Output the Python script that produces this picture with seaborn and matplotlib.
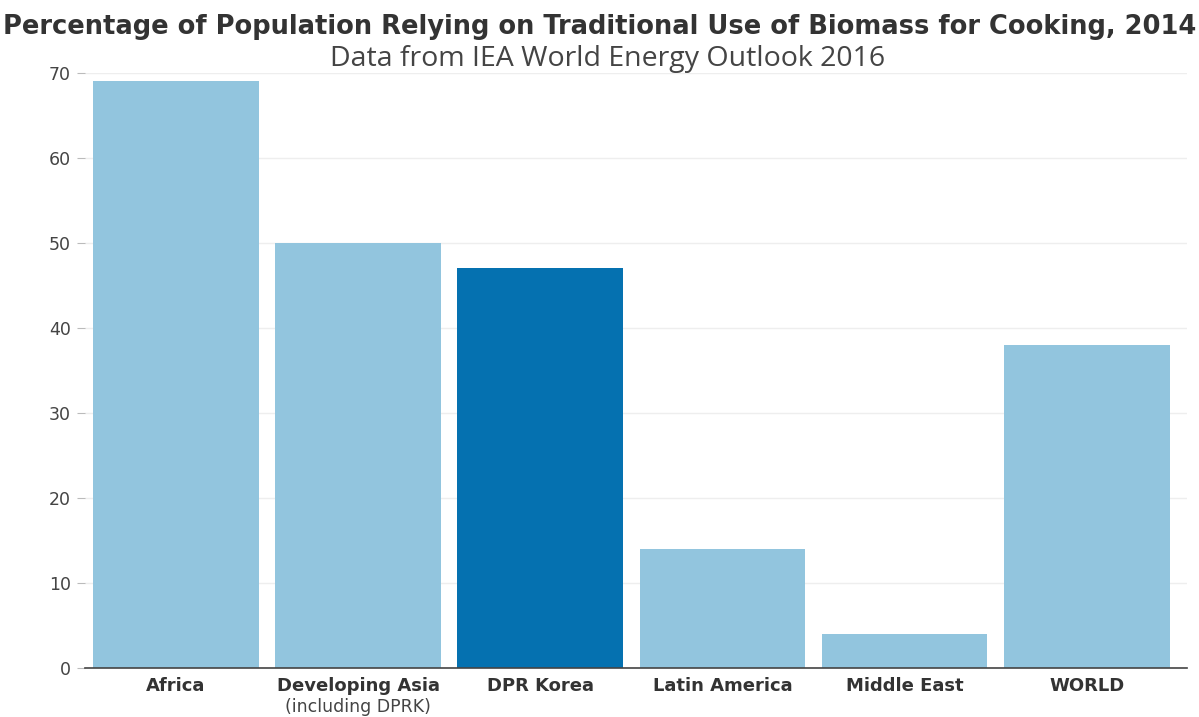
import matplotlib
matplotlib.use("Agg")
import matplotlib.pyplot as plt
import seaborn as sns
import pandas as pd

categories = ["Africa", "Developing Asia\n(including DPRK)", "DPR Korea", "Latin America", "Middle East", "WORLD"]
values = [69, 50, 47, 14, 4, 38]
colors = ["#92C5DE", "#92C5DE", "#0571B0", "#92C5DE", "#92C5DE", "#92C5DE"]
yticks = [0, 10, 20, 30, 40, 50, 60, 70]

sns.set_theme(style="white")
plt.rcParams['font.family'] = ['DejaVu Sans']

df = pd.DataFrame({"cat": categories, "val": values})
fig = plt.figure(figsize=(11.99, 7.17), dpi=100)
ax = fig.add_axes([0.0709, 0.0683, 0.919, 0.830])
sns.barplot(data=df, x="cat", y="val", hue="cat", palette=dict(zip(categories, colors)),
            legend=False, width=0.91, saturation=1, linewidth=0, ax=ax)
ax.set_ylim(0, 70)
ax.set_yticks(yticks)
ax.set_yticklabels([str(t) for t in yticks], family="DejaVu Sans")
ax.set_xlim(-0.5, len(categories) - 0.5 + 0.05)
ax.grid(axis="y", color="#eeeeee", linewidth=1)
ax.set_axisbelow(True)
for s in ["top", "right", "left"]:
    ax.spines[s].set_visible(False)
ax.spines["bottom"].set_color("#444444")
ax.spines["bottom"].set_linewidth(1.2)
ax.set_xlabel("")
ax.set_ylabel("")
ax.tick_params(axis="y", labelsize=12.5, colors="#444444", length=6, width=0.8, pad=4, left=True, color="#bbbbbb")
ax.tick_params(axis="x", length=0, pad=6)
ax.set_xticks(range(len(categories)))
ax.set_xticklabels([])
for i, c in enumerate(categories):
    lines = c.split("\n")
    ax.text(i, -1.0, lines[0], ha="center", va="top", fontsize=13, fontweight="bold", color="#333333",
            family="DejaVu Sans", transform=ax.transData)
    if len(lines) > 1:
        ax.text(i, -3.5, lines[1], ha="center", va="top", fontsize=12.5, color="#444444",
                family="DejaVu Sans", transform=ax.transData)

fig.text(0.5, 0.962, "Percentage of Population Relying on Traditional Use of Biomass for Cooking, 2014",
         ha="center", va="center", fontsize=18.5, fontweight="bold", color="#333333", family="DejaVu Sans")
fig.text(0.507, 0.918, "Data from IEA World Energy Outlook 2016", ha="center", va="center",
         fontsize=20.5, color="#444444", family="Open Sans")

fig.savefig("out.png", dpi=100)
